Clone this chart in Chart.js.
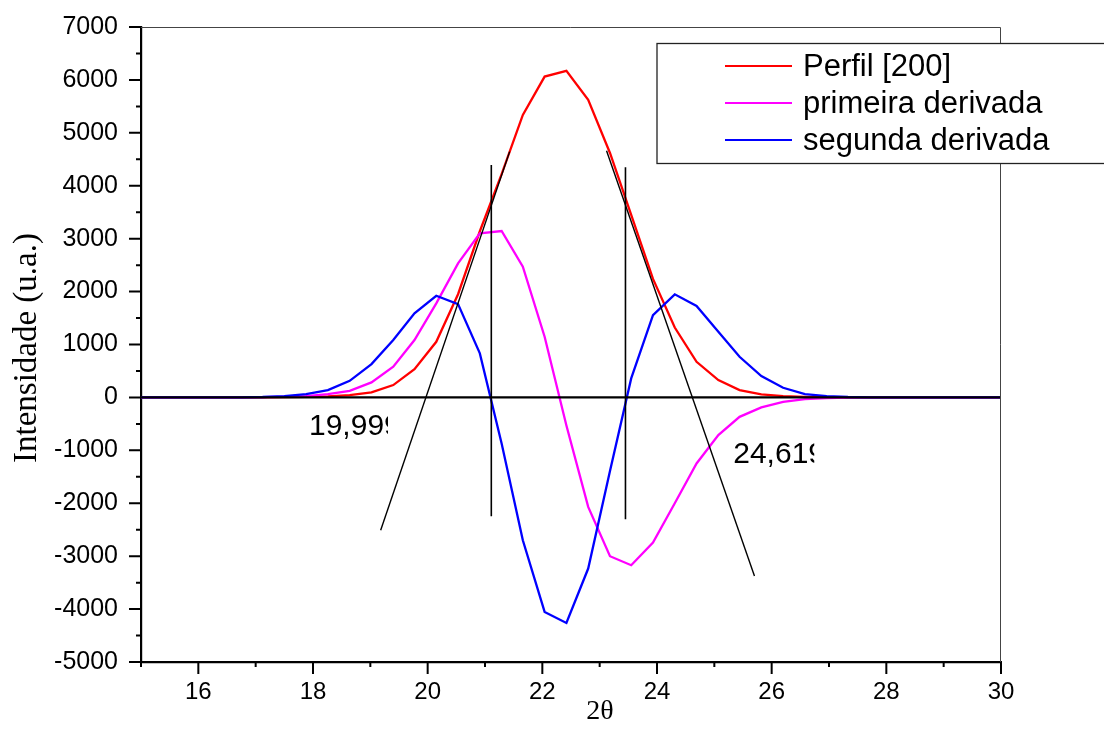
<!DOCTYPE html>
<html>
<head>
<meta charset="utf-8">
<script src="https://cdn.jsdelivr.net/npm/chart.js@4.4.0/dist/chart.umd.min.js"></script>
<style>
html, body { margin: 0; padding: 0; background: #fff; }
</style>
</head>
<body>
<canvas id="grafico" width="1104" height="751"></canvas>
<script>
// valores de 2theta (comunes a las tres curvas)
var angulos = [14.85, 15.23, 15.61, 15.99, 16.37, 16.75, 17.12, 17.50, 17.88, 18.26,
    18.64, 19.02, 19.40, 19.77, 20.15, 20.53, 20.91, 21.29, 21.66, 22.04,
    22.42, 22.80, 23.18, 23.55, 23.93, 24.31, 24.69, 25.07, 25.44, 25.82,
    26.20, 26.58, 26.96, 27.33, 27.71, 28.09, 28.47, 28.85, 29.22, 29.60,
    29.98, 30.36];

var perfil = [0, 0, 0, 0, 0, 1, 2, 5, 10, 20,
    43, 95, 233, 535, 1051, 1950, 3140, 4220, 5338, 6063,
    6171, 5622, 4620, 3450, 2240, 1321, 673, 327, 138, 57,
    25, 10, 4, 1, 0, 0, 0, 0, 0, 0,
    0, 0];

var primeira = [0, 0, 0, 0, 0, 1, 4, 10, 25, 62,
    125, 284, 579, 1084, 1778, 2534, 3101, 3145, 2470, 1146,
    -530, -2069, -3001, -3171, -2742, -2000, -1248, -713, -367, -189,
    -83, -32, -12, -4, -1, 0, 0, 0, 0, 0,
    0, 0];

var segunda = [0, 0, 0, 0, 0, 2, 8, 25, 62, 138,
    314, 630, 1084, 1589, 1921, 1764, 832, -870, -2699, -4054,
    -4262, -3234, -1390, 359, 1556, 1948, 1727, 1241, 768, 403,
    182, 62, 25, 8, 2, 0, 0, 0, 0, 0,
    0, 0];

// rectas tangentes y lineas verticales (extremos)
var tangIzqX = [19.18, 21.43];
var tangIzqY = [-2509, 4645];
var tangDerX = [23.12, 25.70];
var tangDerY = [4663, -3374];
var vertIzqX = [21.11, 21.11];
var vertIzqY = [4393, -2245];
var vertDerX = [23.45, 23.45];
var vertDerY = [4349, -2301];

// marcas de los ejes
var ticksX = [16, 18, 20, 22, 24, 26, 28, 30];
var ticksXMenor = [15, 17, 19, 21, 23, 25, 27, 29];
var ticksY = [-5000, -4000, -3000, -2000, -1000, 0, 1000, 2000, 3000, 4000, 5000, 6000, 7000];
var ticksYMenor = [-4500, -3500, -2500, -1500, -500, 500, 1500, 2500, 3500, 4500, 5500, 6500];

var etiquetas = ['19,999', '24,619'];

var fuente = "'Liberation Sans', Arial, sans-serif";
var fuenteSerif = "'Liberation Serif', 'Times New Roman', serif";

function puntos(xs, ys) {
    return xs.map((x, i) => ({ x: x, y: ys[i] }));
}

function lineaNegra(xs, ys, ancho) {
    return { data: puntos(xs, ys), borderColor: '#000', borderWidth: ancho, order: 0 };
}

// dibuja marcas, linea cero, marco, textos y leyenda
var extras = {
    id: 'extras',
    afterDatasetsDraw: function (chart) {
        var ctx = chart.ctx;
        var a = chart.chartArea;
        var sx = chart.scales.x;
        var sy = chart.scales.y;
        ctx.save();

        // linea horizontal en cero
        var y0 = sy.getPixelForValue(0);
        ctx.strokeStyle = '#000';
        ctx.lineWidth = 2.2;
        ctx.beginPath();
        ctx.moveTo(a.left, y0);
        ctx.lineTo(a.right, y0);
        ctx.stroke();

        // marco superior y derecho
        ctx.strokeStyle = '#444';
        ctx.lineWidth = 1;
        ctx.beginPath();
        ctx.moveTo(a.left, a.top + 0.5);
        ctx.lineTo(a.right - 0.5, a.top + 0.5);
        ctx.lineTo(a.right - 0.5, a.bottom);
        ctx.stroke();

        // marcas de los ejes
        ctx.strokeStyle = '#000';
        ctx.lineWidth = 2;
        ctx.beginPath();
        ticksX.forEach(v => { var p = sx.getPixelForValue(v); ctx.moveTo(p, a.bottom); ctx.lineTo(p, a.bottom + 12); });
        ticksXMenor.forEach(v => { var p = sx.getPixelForValue(v); ctx.moveTo(p, a.bottom); ctx.lineTo(p, a.bottom + 5); });
        ticksY.forEach(v => { var p = sy.getPixelForValue(v); ctx.moveTo(a.left, p); ctx.lineTo(a.left - 12, p); });
        ticksYMenor.forEach(v => { var p = sy.getPixelForValue(v); ctx.moveTo(a.left, p); ctx.lineTo(a.left - 5, p); });
        ctx.stroke();

        // textos con el ultimo digito cortado
        ctx.fillStyle = '#000';
        ctx.font = '30px ' + fuente;
        ctx.textBaseline = 'alphabetic';
        var notas = [[17.93, -713, 79], [25.33, -1248, 81]];
        notas.forEach((n, i) => {
            var px = sx.getPixelForValue(n[0]);
            var py = sy.getPixelForValue(n[1]);
            ctx.save();
            ctx.beginPath();
            ctx.rect(px, py - 40, n[2], 60);
            ctx.clip();
            ctx.fillText(etiquetas[i], px, py);
            ctx.restore();
        });

        // leyenda
        var items = chart.data.datasets.filter(d => d.label);
        ctx.fillStyle = '#fff';
        ctx.fillRect(657, 43.5, 460, 120);
        ctx.strokeStyle = '#222';
        ctx.lineWidth = 1.3;
        ctx.strokeRect(657, 43.5, 460, 120);
        ctx.font = '31px ' + fuente;
        ctx.textBaseline = 'middle';
        items.forEach((d, i) => {
            var yy = 66 + i * 37;
            ctx.strokeStyle = d.borderColor;
            ctx.lineWidth = 2;
            ctx.beginPath();
            ctx.moveTo(725, yy);
            ctx.lineTo(792, yy);
            ctx.stroke();
            ctx.fillStyle = '#000';
            ctx.fillText(d.label, 803, yy + 1);
        });

        // titulos de los ejes
        ctx.font = '33px ' + fuenteSerif;
        ctx.textAlign = 'center';
        ctx.save();
        ctx.translate(27, 348);
        ctx.rotate(-Math.PI / 2);
        ctx.fillText('Intensidade (u.a.)', 0, 0);
        ctx.restore();
        ctx.font = '28px ' + fuenteSerif;
        ctx.fillText('2θ', 600, 712);

        ctx.restore();
    }
};

var chart = new Chart(document.getElementById('grafico').getContext('2d'), {
    type: 'line',
    data: {
        datasets: [
            { label: 'Perfil [200]', data: puntos(angulos, perfil), borderColor: '#ff0000', borderWidth: 2.3, order: 3 },
            { label: 'primeira derivada', data: puntos(angulos, primeira), borderColor: '#ff00ff', borderWidth: 2.3, order: 2 },
            { label: 'segunda derivada', data: puntos(angulos, segunda), borderColor: '#0000ff', borderWidth: 2.3, order: 1 },
            lineaNegra(tangIzqX, tangIzqY, 1.4),
            lineaNegra(tangDerX, tangDerY, 1.4),
            lineaNegra(vertIzqX, vertIzqY, 1.6),
            lineaNegra(vertDerX, vertDerY, 1.6)
        ]
    },
    options: {
        responsive: false,
        animation: false,
        devicePixelRatio: 1,
        layout: { padding: { top: 27, right: 103, left: 0, bottom: 0 } },
        elements: { point: { radius: 0 }, line: { tension: 0 } },
        plugins: { legend: { display: false }, tooltip: { enabled: false } },
        scales: {
            x: {
                type: 'linear', min: 15, max: 30,
                afterBuildTicks: s => { s.ticks = ticksX.map(v => ({ value: v })); },
                afterFit: s => { s.height = 89; s.paddingLeft = 0; s.paddingRight = 0; },
                grid: { display: false, drawTicks: false },
                border: { display: true, color: '#000', width: 2.2 },
                ticks: { color: '#000', font: { family: fuente, size: 24 }, padding: 16, maxRotation: 0, autoSkip: false,
                    callback: v => String(v) }
            },
            y: {
                type: 'linear', min: -5000, max: 7000,
                afterBuildTicks: s => { s.ticks = ticksY.map(v => ({ value: v })); },
                afterFit: s => { s.width = 141; s.paddingTop = 0; s.paddingBottom = 0; },
                grid: { display: false, drawTicks: false },
                border: { display: true, color: '#000', width: 2.2 },
                ticks: { color: '#000', font: { family: fuente, size: 25 }, padding: 23, autoSkip: false,
                    callback: v => String(v) }
            }
        }
    },
    plugins: [extras]
});
</script>
</body>
</html>
